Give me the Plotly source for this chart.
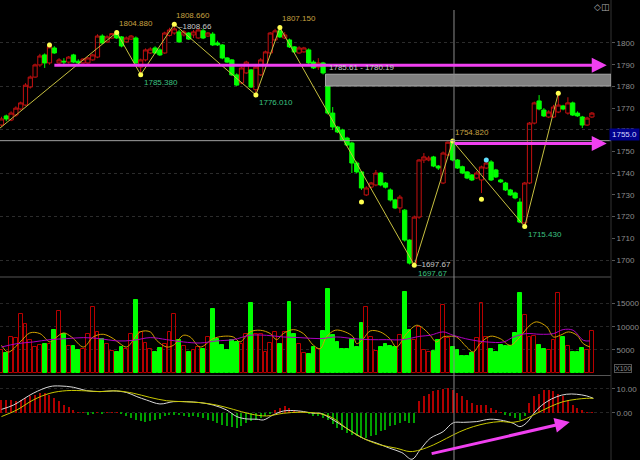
import plotly.graph_objects as go

# ---------------- data ----------------
opens = [1762.2,1766.4,1764.5,1766.8,1769.6,1771.4,1779.7,1784.3,1789.9,1794.5,
1790.8,1797.7,1790.8,1791.6,1791.2,1794.5,1791.6,1790.8,1790.8,1792.2,
1793.5,1803.2,1800.5,1802.3,1804.3,1802.8,1800.5,1801.8,1802.3,1788.9,
1792.2,1795.4,1797.7,1796.8,1795.4,1803.5,1804.6,1805.1,1803.7,1804.6,
1803.7,1802.3,1805.6,1803.2,1804.1,1800.0,1799.1,1793.1,1792.2,1785.3,
1781.6,1786.2,1787.6,1778.5,1785.3,1789.9,1795.4,1801.4,1805.6,1802.3,
1801.4,1798.2,1795.4,1795.9,1796.8,1791.2,1788.9,1790.8,1780.2,1767.7,
1761.3,1759.9,1756.2,1753.9,1744.7,1740.6,1730.0,1733.6,1734.6,1740.1,
1735.5,1732.3,1727.7,1724.0,1723.0,1709.2,1698.6,1719.8,1746.1,1746.1,
1747.5,1743.3,1735.5,1748.4,1754.5,1746.1,1743.0,1740.6,1739.2,1737.8,
1736.9,1742.4,1745.2,1741.5,1736.9,1735.5,1732.3,1730.9,1726.7,1717.1,
1735.5,1763.1,1773.3,1769.1,1765.9,1765.9,1768.2,1771.0,1767.7,1772.4,
1767.7,1765.9,1762.2,1765.9]
highs = [1766.0,1767.0,1768.5,1770.8,1773.0,1781.5,1785.0,1790.5,1795.0,1795.2,
1799.1,1798.5,1793.0,1793.0,1794.0,1795.0,1792.5,1793.0,1793.6,1795.0,
1804.0,1804.0,1803.5,1804.6,1804.88,1803.2,1803.0,1803.7,1803.0,1792.8,
1797.5,1798.0,1798.5,1797.5,1805.2,1807.0,1808.66,1806.0,1806.0,1805.0,
1806.0,1806.5,1806.5,1805.0,1805.0,1801.0,1799.5,1793.5,1792.6,1786.0,
1789.0,1791.8,1788.0,1789.5,1793.0,1796.5,1805.0,1806.5,1807.15,1805.0,
1802.0,1798.6,1798.5,1798.2,1797.5,1792.0,1793.0,1791.3,1781.0,1770.5,
1761.8,1760.5,1756.8,1754.5,1745.5,1741.0,1734.0,1736.0,1741.5,1740.6,
1736.0,1733.0,1728.2,1730.0,1723.5,1709.5,1720.5,1746.5,1749.3,1748.0,
1748.0,1743.8,1750.0,1754.6,1754.82,1746.5,1743.5,1741.0,1739.6,1741.0,
1743.5,1745.5,1746.0,1742.0,1737.4,1736.0,1732.8,1731.5,1728.5,1736.0,
1763.6,1773.0,1776.0,1770.0,1769.0,1771.5,1776.9,1771.5,1775.0,1773.0,
1768.5,1766.4,1766.0,1768.2]
lows = [1761.5,1764.0,1764.0,1766.0,1769.0,1771.0,1779.0,1784.0,1789.0,1788.5,
1790.0,1795.0,1790.0,1790.0,1790.5,1790.8,1790.2,1790.5,1790.5,1791.8,
1793.0,1799.5,1800.0,1802.0,1801.8,1798.0,1800.0,1801.4,1790.0,1785.38,
1791.5,1795.0,1795.0,1794.0,1795.0,1803.0,1803.8,1800.0,1803.0,1801.4,
1802.3,1802.0,1801.8,1802.8,1798.6,1798.6,1792.5,1790.8,1784.8,1780.2,
1781.0,1785.8,1779.3,1776.01,1784.8,1789.5,1795.0,1801.0,1802.3,1801.8,
1797.7,1795.4,1795.0,1795.5,1790.2,1788.0,1787.6,1785.5,1767.0,1759.9,
1758.5,1754.8,1752.5,1740.1,1740.0,1732.3,1729.5,1733.0,1734.0,1734.0,
1733.0,1727.0,1723.5,1721.7,1708.5,1698.0,1697.67,1719.0,1744.7,1745.5,
1742.8,1741.5,1735.0,1748.0,1745.5,1742.0,1739.6,1737.3,1736.4,1737.3,
1730.9,1742.0,1736.4,1737.8,1735.5,1731.8,1729.5,1728.0,1717.0,1715.43,
1735.0,1762.5,1769.0,1765.9,1765.4,1765.4,1767.7,1769.0,1767.0,1766.4,
1766.0,1760.8,1761.8,1765.4]
closes = [1765.0,1765.0,1767.7,1770.0,1772.4,1780.6,1784.3,1789.9,1794.0,1790.8,
1798.2,1795.4,1792.2,1791.3,1793.5,1791.2,1790.8,1792.6,1793.1,1794.5,
1803.2,1800.0,1802.8,1804.3,1802.3,1798.6,1802.3,1803.2,1790.8,1792.2,
1796.8,1797.2,1795.4,1794.5,1804.6,1806.0,1806.5,1800.5,1805.1,1801.8,
1805.1,1806.0,1802.3,1804.6,1799.1,1799.1,1793.1,1791.2,1785.3,1780.6,
1788.5,1791.2,1779.7,1788.9,1792.2,1795.9,1804.6,1805.6,1802.8,1803.7,
1798.2,1795.9,1797.7,1797.7,1790.8,1788.5,1790.8,1786.2,1767.7,1761.3,
1759.0,1755.3,1753.0,1744.7,1740.6,1733.2,1733.2,1735.5,1740.1,1734.6,
1733.6,1727.7,1724.0,1729.0,1709.2,1698.6,1719.8,1746.1,1747.5,1747.0,
1743.3,1742.4,1749.3,1754.3,1746.1,1742.4,1740.1,1737.8,1736.9,1740.1,
1742.9,1744.7,1736.9,1738.3,1736.0,1732.3,1730.0,1728.6,1717.5,1735.5,
1763.1,1772.4,1769.6,1766.4,1768.2,1770.5,1771.4,1769.6,1772.4,1766.8,
1766.4,1762.2,1765.4,1767.7]
volumes = [5000,4310,7790,7650,12720,10690,7070,5620,5980,6340,
6340,9240,13450,8370,5760,5760,4890,5250,8520,14170,
8880,7430,6200,4750,4530,5620,5250,8370,15760,8880,
6490,5250,4530,5400,6340,8880,12720,7210,5760,4530,
5040,5620,5110,7790,13740,7300,5980,4890,7210,6710,
6200,8370,15040,8520,8370,4530,6490,8880,6340,8880,
15400,8520,6340,4310,4160,5620,5250,9090,18080,8150,
6700,5110,5250,7430,5620,10830,14170,7790,4740,5620,
6340,5830,5620,8300,17570,9380,7070,9970,4890,4500,
4750,7210,14680,7500,5620,4890,3590,3590,4310,7570,
15180,7800,5250,4530,5980,5760,5760,8660,17210,12500,
7790,8000,5980,5110,5040,7070,17360,7790,5830,4530,
4530,5470,4890,9020]
macd_hist = [5.3,5.3,5.3,4.9,5.6,6.25,6.9,7.6,8.3,8.3,
7.6,6.25,4.9,3.5,2.5,1.1,0.3,0.1,-0.7,-0.4,
0.1,-0.3,0.2,0.2,0.1,-0.2,-1.4,-2.1,-3.1,-3.5,
-3.75,-3.5,-2.8,-2.5,-1.4,-1.0,-0.7,-1.0,-1.4,-1.7,
-1.4,-1.7,-2.1,-2.8,-3.5,-4.2,-4.9,-5.6,-5.8,-6.25,
-5.3,-4.2,-3.5,-2.8,-2.1,-1.1,-0.4,1.4,2.1,2.8,
2.1,1.4,0.7,0.3,-0.4,-1.1,-1.4,-2.1,-3.1,-4.4,
-6.25,-6.9,-8.3,-9.0,-9.7,-10.4,-10.4,-9.7,-9.0,-7.6,
-6.9,-5.6,-4.9,-4.2,-3.5,-4.2,-4.2,4.9,6.9,8.1,
9.0,9.7,10.0,10.4,9.7,8.3,6.9,5.3,4.2,3.5,
3.5,3.5,2.1,1.1,0.4,-0.7,-1.4,-2.1,-2.8,-1.4,
4.2,6.9,8.1,9.4,9.7,9.0,8.1,6.9,5.3,3.5,
2.1,1.1,0.4,0.1]

# volume moving averages (read at sample bars)
vma_short_x = [0,1.4,3.9,5.9,8.0,10.1,11.1,12.9,14.6,17.1,19.1,21.2,23.3,24.7,26.1,28.9,31.0,32.3,34.4,35.8,
               37.9,39.3,41.4,44.1,46.2,48.3,49.7,51.8,53.9,56.0,57.3,58.7,60.8,62.9,65.0,66.4,67.7,69.5,71.6,73.3,
               74.0,75.4,76.8,78.9,80.9,82.3,84.4,86.5,87.9,89.3,90.6,92.0,93.4,94.8,96.9,98.3,99.7,101.8,103.9,106.0,
               108.0,110.1,111.5,113.6,115.0,116.4,118.1,119.9,121.2,122.6]
vma_short = [5980,4530,6710,8660,8520,6710,7430,8660,7790,5620,7790,8370,7430,6340,5620,8880,8880,7070,5620,5980,
             8150,7790,5620,7430,7940,7790,6710,8880,9240,8520,7210,8520,9380,8520,5980,5250,7790,9240,8880,7790,
             6340,7430,9090,8880,7430,5620,8520,10330,9600,8150,6710,7790,7940,7790,5620,4530,6340,7940,7430,5980,
             7790,10330,11060,9970,7790,8150,8880,8150,6340,5620]
vma_long_x = [0,3.2,6.6,10.1,13.6,17.1,20.5,24.0,27.5,31.0,34.4,37.9,41.4,44.8,48.3,51.8,55.2,58.7,62.2,66.4,
              69.8,73.3,76.8,80.2,83.7,87.2,89.3,92.0,94.1,97.6,101.1,104.6,106.7,109.4,112.2,115.0,117.0,119.1,121.2,122.6]
vma_long = [5620,6340,6710,7210,7430,7650,7430,6930,7070,7650,7210,6710,6490,6930,7210,8150,8150,7790,7650,7430,
            7790,7430,7210,7210,7210,7940,8150,8880,8150,7210,6710,6710,7790,8520,8370,8520,9380,9240,7070,6930]

# MACD lines (read at sample bars)
dif_x = [0,2.5,6.6,10.1,12.2,15.0,17.7,20.5,23.3,26.1,28.2,30.2,33.0,35.8,38.6,41.4,44.1,46.9,49.0,51.1,
         53.2,54.6,56.6,58.7,60.8,62.9,65.0,66.4,69.1,71.9,75.4,78.2,80.9,83.4,85.5,87.2,89.3,92.0,94.1,96.2,
         99.0,101.8,104.6,106.6,108.0,109.4,111.5,113.6,115.7,117.7,119.8,121.9,123.3]
dif = [1.5,3.3,8.2,11.0,11.25,10.7,9.3,8.9,9.2,8.5,6.8,5.4,3.75,4.7,4.7,4.3,3.3,1.25,-1.5,-2.5,
       -2.6,-2.9,-0.8,0.8,1.0,0.6,-0.14,-0.14,-2.9,-6.4,-10.6,-12.6,-14.7,-16.5,-19.3,-15.4,-10.6,-7.8,-4.1,-3.9,
       -3.6,-2.6,-3.2,-4.3,-5.7,-4.1,1.25,4.7,6.8,7.8,7.8,7.1,6.1]
dea_x = [0,3.2,6.6,10.1,13.6,17.7,20.5,24.0,27.5,30.9,34.4,37.9,41.4,44.8,48.3,51.8,55.2,58.7,62.2,66.4,
         69.1,71.9,75.4,78.9,82.3,85.1,87.2,90.0,92.7,95.5,98.3,101.1,103.9,106.6,108.7,111.5,114.3,117.0,119.8,121.9,123.3]
dea = [-1.5,1.25,5.4,8.2,9.3,9.2,8.9,9.2,8.2,6.5,5.1,4.7,4.3,3.3,1.5,-0.4,-1.25,-0.14,0.3,-0.3,
       -2.2,-6.4,-10.6,-13.3,-14.7,-16.1,-15.4,-13.3,-10.6,-7.8,-5.7,-4.3,-3.6,-3.9,-2.9,-0.14,2.6,4.7,5.7,6.1,6.1]

# swing (zigzag) points and labels
zz_x = [-0.31, 24, 29, 36, 53, 58, 86, 94, 109, 116]
zz_p = [1760.8, 1804.88, 1785.38, 1808.66, 1776.01, 1807.15, 1697.67, 1754.82, 1715.43, 1776.9]
peak_labels = [(24, 1804.88), (36, 1808.66), (58, 1807.15), (94, 1754.82)]
low_labels = [(29, 1785.38), (53, 1776.01), (109, 1715.43)]
extra_dot_x = [10, 75, 100]
extra_dot_p = [1799.1, 1726.7, 1728.0]
cyan_dot_x = [101]
cyan_dot_p = [1746.1]

price_ticks = list(range(1700, 1801, 10))
price_grid = list(range(1700, 1801, 20))
vol_ticks = [5000, 10000, 15000]
macd_ticks = [0, 10]

zone_hi, zone_lo, zone_start = 1785.61, 1780.19, 67.5
cursor_x, cursor_price = 94.27, 1755.0
arrows_price = [(10.7, 1789.7, 126.1, 1789.7), (94.1, 1753.7, 126.1, 1753.7)]
arrow_macd = (89.3, -17.1, 118.4, -3.75)

# ---------------- figure ----------------
N = len(closes)
xs = list(range(N))
XR = [-0.31, 126.98]
XD = 611 / 640
FONT = "Liberation Sans, Arial, sans-serif"
GOLD, LGREEN, LGREY = "#c8a040", "#3cc080", "#c8c8c8"
RED, GREEN = "#c41010", "#00ff00"

fig = go.Figure()
fig.add_trace(go.Candlestick(
    x=xs, open=opens, high=highs, low=lows, close=closes,
    increasing=dict(line=dict(color=RED, width=1), fillcolor="rgba(0,0,0,0)"),
    decreasing=dict(line=dict(color=GREEN, width=1), fillcolor=GREEN),
    whiskerwidth=0, showlegend=False, xaxis="x", yaxis="y"))
fig.add_trace(go.Scatter(x=zz_x, y=zz_p, mode="lines", line=dict(color="#c8c040", width=1),
                         showlegend=False, yaxis="y"))
fig.add_trace(go.Scatter(x=zz_x[1:] + extra_dot_x, y=zz_p[1:] + extra_dot_p, mode="markers",
                         marker=dict(color="#ffff50", size=5), showlegend=False, yaxis="y"))
fig.add_trace(go.Scatter(x=cyan_dot_x, y=cyan_dot_p, mode="markers",
                         marker=dict(color="#60e0ff", size=5), showlegend=False, yaxis="y"))
# grid helper axis
fig.add_trace(go.Scatter(x=[None], y=[None], yaxis="y4", showlegend=False))

up = [c >= o for o, c in zip(opens, closes)]
fig.add_trace(go.Bar(x=xs, y=volumes, width=0.8, yaxis="y2",
                     marker=dict(color=["rgba(0,0,0,0)" if u else GREEN for u in up],
                                 line=dict(color=["#b80000" if u else GREEN for u in up], width=1)),
                     showlegend=False))
fig.add_trace(go.Scatter(x=vma_short_x, y=vma_short, mode="lines", line=dict(color="#d0a000", width=1, shape="spline"),
                         yaxis="y2", showlegend=False))
fig.add_trace(go.Scatter(x=vma_long_x, y=vma_long, mode="lines", line=dict(color="#b000c0", width=1, shape="spline"),
                         yaxis="y2", showlegend=False))

fig.add_trace(go.Bar(x=xs, y=macd_hist, width=0.22, yaxis="y3",
                     marker=dict(color=["#b00000" if h >= 0 else "#00a000" for h in macd_hist], line=dict(width=0)),
                     showlegend=False))
fig.add_trace(go.Scatter(x=dif_x, y=dif, mode="lines", line=dict(color="#d8d8d8", width=1, shape="spline"),
                         yaxis="y3", showlegend=False))
fig.add_trace(go.Scatter(x=dea_x, y=dea, mode="lines", line=dict(color="#c8c800", width=1, shape="spline"),
                         yaxis="y3", showlegend=False))

axis_common = dict(side="right", anchor="x", zeroline=False, showline=False, automargin=False,
                   ticks="outside", ticklen=3, tickcolor="#555",
                   tickfont=dict(size=8, color="#8c8c8c", family=FONT), fixedrange=True)
P_DOM = [1 - 277 / 460, 1]
fig.update_layout(
    width=640, height=460, margin=dict(l=0, r=0, t=0, b=0, pad=0),
    paper_bgcolor="#000", plot_bgcolor="#000", boxgap=0.12, boxgroupgap=0, bargap=0,
    showlegend=False,
    xaxis=dict(domain=[0, XD], range=XR, visible=False, automargin=False,
               rangeslider=dict(visible=False), fixedrange=True),
    yaxis=dict(domain=P_DOM, range=[1692.2, 1819.8], tickvals=price_ticks,
               ticktext=[str(v) for v in price_ticks], showgrid=False, **axis_common),
    yaxis4=dict(domain=P_DOM, range=[1692.2, 1819.8], overlaying="y", side="right", anchor="x",
                tickvals=price_grid, showticklabels=False, ticks="", showgrid=True, automargin=False,
                gridcolor="#2c2c2c", griddash="dot", zeroline=False, showline=False),
    yaxis2=dict(domain=[1 - 375.5 / 460, 1 - 278 / 460], range=[-543, 20540], tickvals=vol_ticks,
                ticktext=[str(v) for v in vol_ticks], showgrid=True, gridcolor="#262626", griddash="dot",
                **axis_common),
    yaxis3=dict(domain=[0, 1 - 376 / 460], range=[-19.6, 15.4], tickvals=macd_ticks,
                ticktext=[f"{v:.2f}" for v in macd_ticks], showgrid=True, gridcolor="#262626", griddash="dot",
                **axis_common),
)

shapes = []
for yp in [1 - 277 / 460, 1 - 375.5 / 460]:
    shapes.append(dict(type="line", xref="paper", yref="paper", x0=0, x1=XD, y0=yp, y1=yp,
                       line=dict(color="#555", width=1)))
shapes.append(dict(type="line", xref="paper", yref="paper", x0=XD, x1=XD, y0=0, y1=1,
                   line=dict(color="#333", width=1)))
shapes.append(dict(type="rect", xref="x", yref="y", x0=zone_start, x1=XR[1], y0=zone_lo, y1=zone_hi,
                   fillcolor="#808080", line=dict(color="#a8a8a8", width=1), layer="above"))
shapes.append(dict(type="line", xref="x", yref="paper", x0=cursor_x, x1=cursor_x, y0=0, y1=1 - 10 / 460,
                   line=dict(color="#8a8a8a", width=1)))
shapes.append(dict(type="line", xref="paper", yref="y", x0=0, x1=XD, y0=cursor_price, y1=cursor_price,
                   line=dict(color="#a0a0a0", width=1)))
fig.update_layout(shapes=shapes)

ann = []
for (xa, ya, xb, yb) in arrows_price:
    ann.append(dict(x=xb, y=yb, ax=xa, ay=yb, xref="x", yref="y", axref="x", ayref="y", text="",
                    showarrow=True, arrowhead=2, arrowsize=1, arrowwidth=3, arrowcolor="#f040f0"))
xa, ya, xb, yb = arrow_macd
ann.append(dict(x=xb, y=yb, ax=xa, ay=ya, xref="x", yref="y3", axref="x", ayref="y3", text="",
                showarrow=True, arrowhead=2, arrowsize=1, arrowwidth=3, arrowcolor="#f040f0"))
lab_font = dict(size=8, family=FONT)
for xi, p in peak_labels:
    ann.append(dict(x=xi, y=p, xref="x", yref="y", text=f"{p:.3f}", showarrow=False, xanchor="left",
                    yanchor="bottom", yshift=2, font=dict(color=GOLD, **lab_font)))
for xi, p in low_labels:
    ann.append(dict(x=xi, y=p, xref="x", yref="y", text=f"{p:.3f}", showarrow=False, xanchor="left",
                    yanchor="top", xshift=1, yshift=-1, font=dict(color=LGREEN, **lab_font)))
ann.append(dict(x=zz_x[3], y=zz_p[3], xref="x", yref="y", text=f"–{zz_p[3]:.2f}", showarrow=False,
                xanchor="left", yanchor="middle", xshift=2, yshift=-2, font=dict(color=LGREY, **lab_font)))
ann.append(dict(x=zz_x[6], y=zz_p[6], xref="x", yref="y", text=f"–{zz_p[6]:.2f}", showarrow=False,
                xanchor="left", yanchor="middle", xshift=1, yshift=1, font=dict(color=LGREY, **lab_font)))
ann.append(dict(x=zz_x[6], y=zz_p[6], xref="x", yref="y", text=f"{zz_p[6]:.2f}", showarrow=False,
                xanchor="left", yanchor="top", xshift=2, yshift=-2, font=dict(color=LGREEN, **lab_font)))
ann.append(dict(x=zone_start, y=zone_hi, xref="x", yref="y", text=f"{zone_hi:.2f} - {zone_lo:.2f}",
                showarrow=False, xanchor="left", yanchor="bottom", xshift=2, yshift=0,
                font=dict(color=LGREY, **lab_font)))
ann.append(dict(x=1, y=cursor_price, xref="paper", yref="y", text=f"{cursor_price:.1f}", showarrow=False,
                xanchor="right", yanchor="bottom", bgcolor="#00008c", borderpad=1, width=27,
                font=dict(color="#d8d8ff", **lab_font)))
ann.append(dict(x=XD + 0.005, y=900, xref="paper", yref="y2", text="X100", showarrow=False,
                xanchor="left", yanchor="middle", bordercolor="#555", borderwidth=1, borderpad=0,
                font=dict(color="#8c8c8c", size=7, family=FONT)))
ann.append(dict(x=XD, y=1, xref="paper", yref="paper", text="◇◫", showarrow=False,
                xanchor="right", yanchor="top", font=dict(color="#b0b0b0", size=9, family="DejaVu Sans")))
fig.update_layout(annotations=ann)

fig.write_html("out.html", config={"displayModeBar": False},
               post_script="document.body.style.margin='0px';document.body.style.background='#000';")
